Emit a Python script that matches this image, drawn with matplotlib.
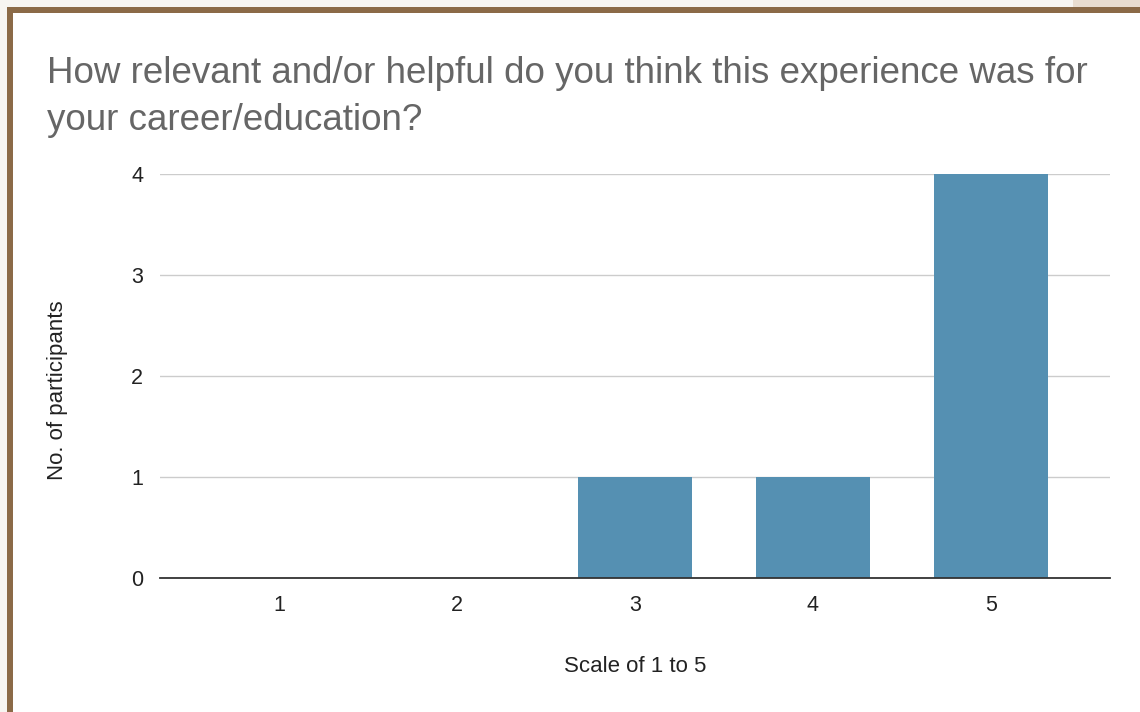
import matplotlib.pyplot as plt
from matplotlib.patches import Rectangle

# survey answers
scale = ['1', '2', '3', '4', '5']
counts = [0, 0, 1, 1, 4]
yticks = [0, 1, 2, 3, 4]

title_lines = ['How relevant and/or helpful do you think this experience was for',
               'your career/education?']

plt.rcParams['font.family'] = ['Liberation Sans', 'DejaVu Sans']

W, H = 1140, 712
fig = plt.figure(figsize=(W / 100, H / 100), dpi=100)
fig.patch.set_facecolor('white')

# page background and brown frame
def px(x, y, w, h, color):
    fig.patches.append(Rectangle((x / W, 1 - (y + h) / H), w / W, h / H,
                                 transform=fig.transFigure, color=color, zorder=-10, lw=0))

px(0, 0, W, 8, '#f7f5f1')
px(0, 0, 7, H, '#f7f5f1')
px(1073, 0, W - 1073, 8, '#e9ddd0')
px(7, 7, W - 7, 6, '#8b6a47')
px(7, 7, 6, H - 7, '#8b6a47')

ax = fig.add_axes([160 / W, 1 - 578 / H, 950 / W, (578 - 174) / H])
x = list(range(1, len(scale) + 1))
ax.bar(x, counts, width=0.64, color='#5590b2', zorder=3)

ax.set_xlim(0.33, 5.67)
ax.set_ylim(0, 4)
ax.set_xticks(x)
ax.set_xticklabels(scale)
ax.set_yticks(yticks)
ax.yaxis.grid(True, color='#cccccc', lw=1)
ax.set_axisbelow(True)
for s in ['top', 'right', 'left']:
    ax.spines[s].set_visible(False)
ax.spines['bottom'].set_color('#333333')
ax.spines['bottom'].set_linewidth(1.3)
ax.spines['bottom'].set_zorder(4)
ax.tick_params(length=0, labelsize=15.5, colors='#222222')
ax.tick_params(axis='x', pad=12)
ax.tick_params(axis='y', pad=12)
ax.set_xlabel('Scale of 1 to 5', fontsize=16, color='#222222', labelpad=29)
ax.set_ylabel('No. of participants', fontsize=16, color='#222222')
ax.yaxis.set_label_coords(-0.097, 0.465)

fig.text(47 / W, 1 - 83 / H, title_lines[0], fontsize=26.5, color='#666666',
         ha='left', va='baseline')
fig.text(47 / W, 1 - 130 / H, title_lines[1], fontsize=26.5, color='#666666',
         ha='left', va='baseline')

fig.savefig('out.png', dpi=100)
